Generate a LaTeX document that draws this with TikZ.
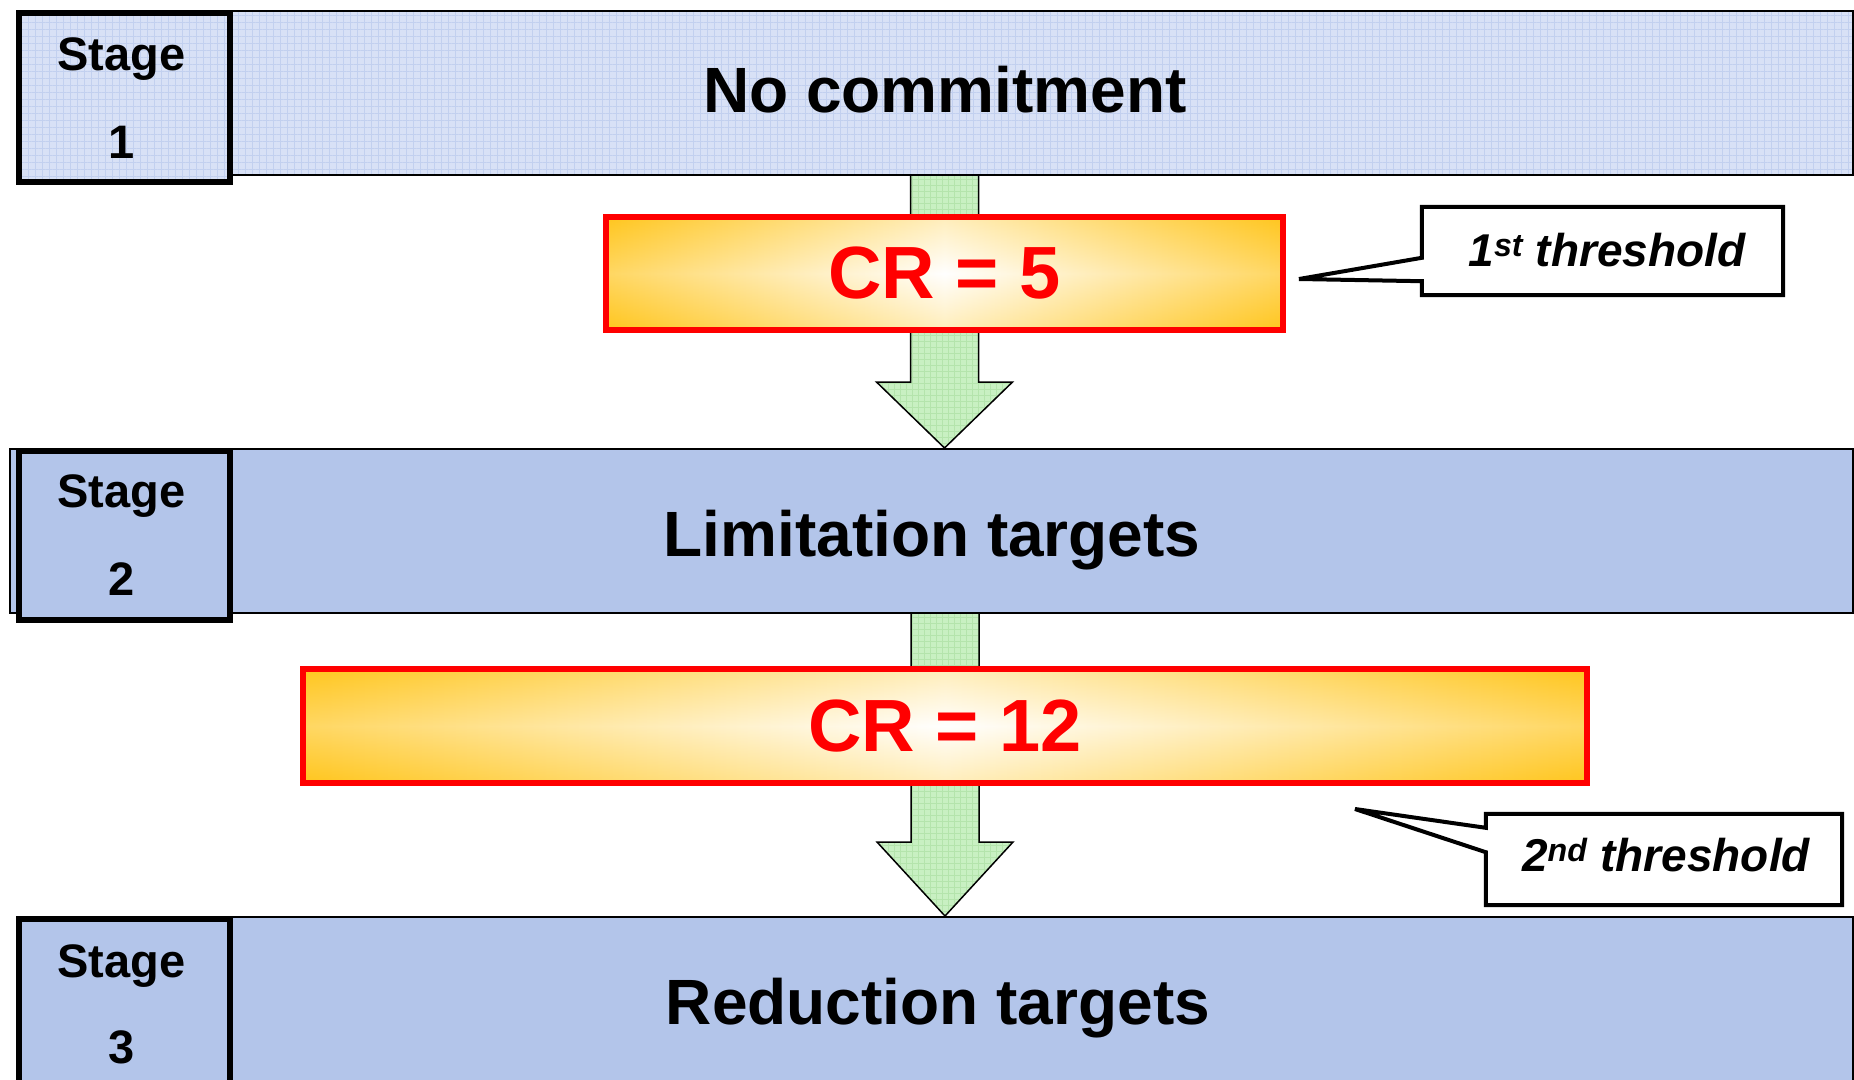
\documentclass[tikz,border=0pt]{standalone}
\usepackage{fontspec}
\setmainfont{Liberation Sans}
\usetikzlibrary{calc,backgrounds,patterns.meta}

\definecolor{paleblue}{HTML}{D8E1F6}
\definecolor{gridblue}{HTML}{C2D0EF}
\definecolor{stageblue}{HTML}{B3C5EA}
\definecolor{arrowgreen}{HTML}{C8F0C2}
\definecolor{gridgreen}{HTML}{B4E4AC}
\definecolor{crgold}{HTML}{FFC61E}

\tikzset{
  bluegrid/.style={
    preaction={fill=paleblue},
    preaction={pattern={Lines[angle=0,distance=7pt,line width=0.8pt]}, pattern color=gridblue},
    preaction={pattern={Lines[angle=90,distance=7pt,line width=0.8pt]}, pattern color=gridblue}},
  greengrid/.style={
    preaction={fill=arrowgreen},
    preaction={pattern={Lines[angle=0,distance=6pt,line width=0.7pt]}, pattern color=gridgreen},
    preaction={pattern={Lines[angle=90,distance=6pt,line width=0.7pt]}, pattern color=gridgreen}},
  bar/.style={draw=black, line width=2pt, inner sep=0pt, anchor=north west},
  stagebox/.style={draw=black, line width=6pt, inner sep=0pt, anchor=north west},
  stagetext/.style={font=\fontsize{47}{56}\selectfont\bfseries, anchor=base, inner sep=0pt},
  bartext/.style={font=\fontsize{64}{76}\selectfont\bfseries, anchor=base, inner sep=0pt},
  crbox/.style={draw=red, line width=6pt, inner sep=0pt, text=red,
    font=\fontsize{74}{88}\selectfont\bfseries,
    preaction={left color=crgold, right color=crgold, middle color=white},
    preaction={fill opacity=0.3, top color=crgold, bottom color=crgold, middle color=white}},
  calloutbox/.style={inner sep=0pt},
  calloutline/.style={draw=black, fill=white, line width=4pt, line join=miter, miter limit=3},
  callouttext/.style={font=\fontsize{46}{55}\selectfont\bfseries\itshape, anchor=base, inner sep=0pt},
  greenarrow/.style={draw=black, line width=1.5pt, line join=miter, greengrid},
}

\begin{document}
\begin{tikzpicture}[x=1pt,y=-1pt]
\useasboundingbox (0,0) rectangle (1854,1079);
\clip (0,0) rectangle (1854,1079);

% stage rows
\node[bar, bluegrid, minimum width=1624pt, minimum height=164pt] (bar1) at (228,10) {};
\node[stagebox, bluegrid, minimum width=211pt, minimum height=169pt] (st1) at (16,10) {};

\node[bar, fill=stageblue, minimum width=1843pt, minimum height=164pt] (bar2) at (9,448) {};
\node[stagebox, fill=stageblue, minimum width=211pt, minimum height=169pt] (st2) at (16,448) {};

\node[bar, fill=stageblue, minimum width=1624pt, minimum height=200pt] (bar3) at (228,916) {};
\node[stagebox, fill=stageblue, minimum width=211pt, minimum height=200pt] (st3) at (16,916) {};

% stage labels
\node[stagetext] (st1a) at (121.5,70) {Stage};
\node[stagetext] (st1b) at (121.5,158) {1};
\node[stagetext] (st2a) at (121.5,507) {Stage};
\node[stagetext] (st2b) at (121.5,595) {2};
\node[stagetext] (st3a) at (121.5,977) {Stage};
\node[stagetext] (st3b) at (121.5,1063) {3};

% row titles
\node[bartext] (t1) at (945,112) {No commitment};
\node[bartext] (t2) at (932,556) {Limitation targets};
\node[bartext] (t3) at (938,1024) {Reduction targets};

% thresholds
\node[crbox, minimum width=677pt, minimum height=113pt] (cr1) at (944.5,273.5) {CR = 5};
\node[crbox, minimum width=1284pt, minimum height=114pt] (cr2) at (945,726) {CR = 12};

% callouts
\node[calloutbox, minimum width=361pt, minimum height=88pt] (th1box) at (1602.5,251) {};
\node[callouttext] (th1) at (1607,266) {1\textsuperscript{st} threshold};
\coordinate (tip1) at (1299,279);

\node[calloutbox, minimum width=356pt, minimum height=91pt] (th2box) at (1664,859.5) {};
\node[callouttext] (th2) at (1666,871) {2\textsuperscript{nd} threshold};
\coordinate (tip2) at (1355,809);

% arrow end points
\coordinate (a1s) at (bar1.south -| cr1.center);
\coordinate (a1t) at (bar2.north -| cr1.center);
\coordinate (a1h) at ($(a1t)+(0,-66)$);
\coordinate (a2s) at (bar2.south -| cr2.center);
\coordinate (a2t) at (bar3.north -| cr2.center);
\coordinate (a2h) at ($(a2t)+(0,-74)$);

\begin{pgfonlayer}{background}
  % block arrows between the rows
  \path[greenarrow] ($(a1s)+(-34,0)$) -- ($(a1h)+(-34,0)$) -- ($(a1h)+(-68,0)$)
    -- (a1t) -- ($(a1h)+(68,0)$) -- ($(a1h)+(34,0)$) -- ($(a1s)+(34,0)$);
  \path[greenarrow] ($(a2s)+(-34,0)$) -- ($(a2h)+(-34,0)$) -- ($(a2h)+(-68,0)$)
    -- (a2t) -- ($(a2h)+(68,0)$) -- ($(a2h)+(34,0)$) -- ($(a2s)+(34,0)$);

  % callout outlines
  \path[calloutline] (th1box.north west) -- (th1box.north east) -- (th1box.south east)
    -- (th1box.south west) -- ($(th1box.south west)+(0,-14)$) -- (tip1)
    -- ($(th1box.north west)+(0,51)$) -- cycle;
  \path[calloutline] (th2box.north west) -- (th2box.north east) -- (th2box.south east)
    -- (th2box.south west) -- ($(th2box.south west)+(0,-53)$) -- (tip2)
    -- ($(th2box.north west)+(0,14)$) -- cycle;
\end{pgfonlayer}
\end{tikzpicture}
\end{document}
